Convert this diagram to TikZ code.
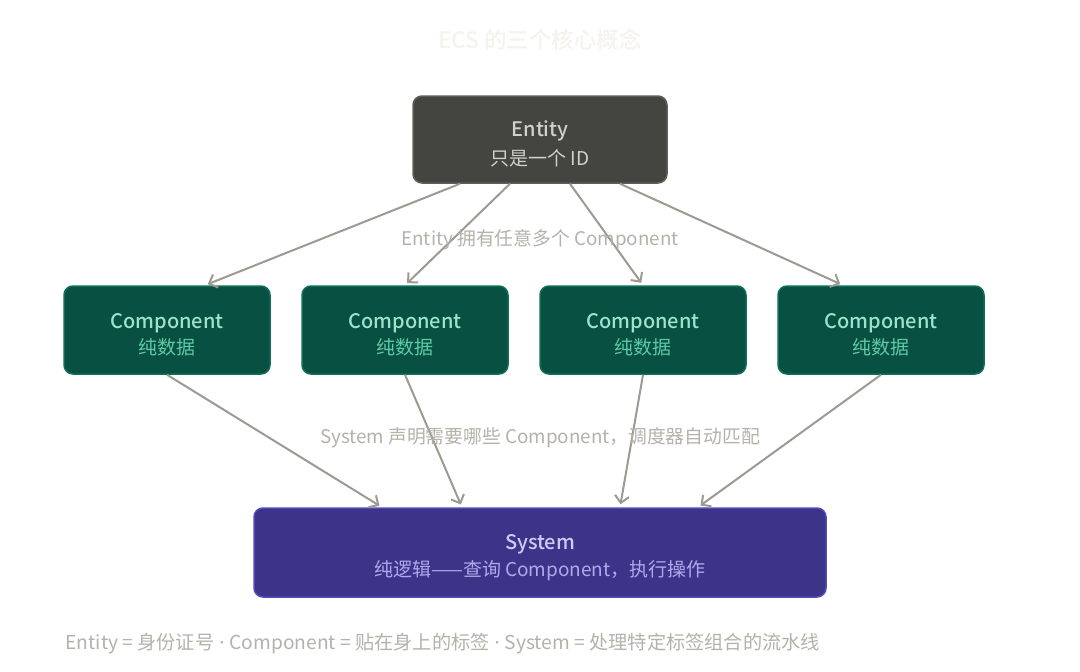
\documentclass[tikz,border=0pt]{standalone}
\usepackage{fontspec}
\setmainfont{Noto Sans CJK SC}[BoldFont={Noto Sans CJK SC Medium}]
\newfontfamily\latinfont{Noto Sans}
\usepackage{xcolor}
\usetikzlibrary{positioning, arrows.meta, calc}

\definecolor{entfill}{HTML}{444441}
\definecolor{entline}{HTML}{5F5E5A}
\definecolor{enttext}{HTML}{D3D1C7}
\definecolor{compfill}{HTML}{085041}
\definecolor{compline}{HTML}{0F6E56}
\definecolor{comptitle}{HTML}{9FE1CB}
\definecolor{compsub}{HTML}{5DCAA5}
\definecolor{sysfill}{HTML}{3C3489}
\definecolor{sysline}{HTML}{534AB7}
\definecolor{systitle}{HTML}{CECBF6}
\definecolor{syssub}{HTML}{AFA9EC}
\definecolor{arrowgray}{HTML}{9C9A92}
\definecolor{notegray}{HTML}{B4B2A9}
\definecolor{faint}{HTML}{F4F3EE}

% the strut pushes both lines a little below the box centre
\newcommand{\boxtitle}[1]{{\fontsize{20}{24}\selectfont\bfseries\rule{0pt}{25pt}#1}}
\newcommand{\boxsub}[1]{{\fontsize{19}{22}\selectfont #1}}
\newcommand{\middot}{{\latinfont\ ·\ }}

\begin{document}
\begin{tikzpicture}[x=1pt, y=-1pt,
    card/.style={rounded corners=9pt, line width=1.5pt, align=center,
        inner sep=0pt},
    entitybox/.style={card, fill=entfill, draw=entline, text=enttext,
        minimum width=254pt, minimum height=87pt},
    compbox/.style={card, fill=compfill, draw=compline,
        minimum width=206pt, minimum height=88pt},
    sysbox/.style={card, fill=sysfill, draw=sysline,
        minimum width=572pt, minimum height=89pt},
    flow/.style={draw=arrowgray, line width=2pt, shorten >=3pt,
        -{Straight Barb[length=7pt, width=14pt]}},
    note/.style={text=notegray, font=\fontsize{18.8}{22}\selectfont}]
    \useasboundingbox (0,0) rectangle (1080,672);
    \fill[white] (0,0) rectangle (1080,672);

    \node[text=faint, font=\fontsize{22.5}{26}\selectfont\bfseries] (title) at (540,40) {ECS 的三个核心概念};

    \node[entitybox] (entity) at (540,139.5) {\boxtitle{Entity}\\[7pt]\boxsub{只是一个 ID}};

    \foreach \x/\n in {167/c1, 405/c2, 643/c3, 881/c4}
        \node[compbox] (\n) at (\x,330) {\textcolor{comptitle}{\boxtitle{Component}}\\[5pt]\textcolor{compsub}{\boxsub{纯数据}}};

    \node[sysbox] (system) at (540,552.5) {\textcolor{systitle}{\boxtitle{System}}\\[5pt]\textcolor{syssub}{\boxsub{纯逻辑——查询 Component，执行操作}}};

    % entity -> components
    \draw[flow] ([xshift=-80pt]entity.south) -- ([xshift=38pt]c1.north);
    \draw[flow] ([xshift=-30pt]entity.south) -- (c2.north);
    \draw[flow] ([xshift=30pt]entity.south) -- (c3.north);
    \draw[flow] ([xshift=80pt]entity.south) -- ([xshift=-38pt]c4.north);

    % components -> system
    \draw[flow] (c1.south) -- ([xshift=-158pt]system.north);
    \draw[flow] (c2.south) -- ([xshift=-78pt]system.north);
    \draw[flow] (c3.south) -- ([xshift=80pt]system.north);
    \draw[flow] (c4.south) -- ([xshift=158pt]system.north);

    \node[note] (has) at (540,240) {Entity 拥有任意多个 Component};
    \node[note] (match) at (540,438) {System 声明需要哪些 Component，调度器自动匹配};
    \node[note, anchor=west, font=\fontsize{19.2}{22}\selectfont] (legend) at (62,644) {Entity = 身份证号\middot Component = 贴在身上的标签\middot System = 处理特定标签组合的流水线};
\end{tikzpicture}
\end{document}
